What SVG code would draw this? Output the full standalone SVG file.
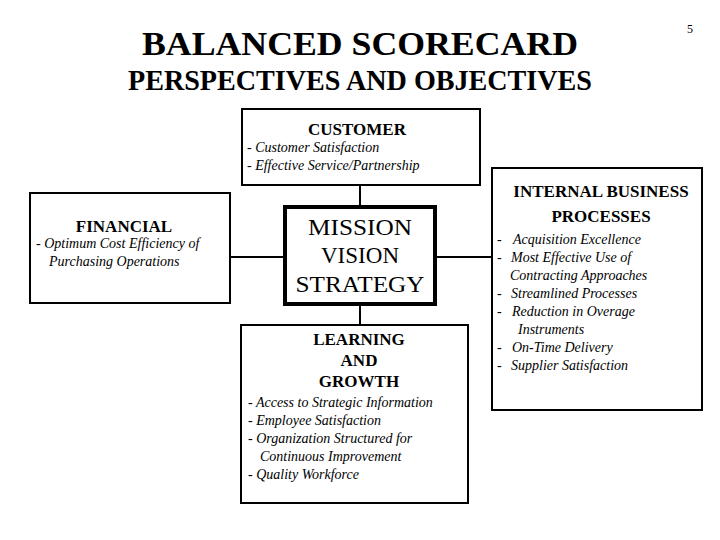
<svg xmlns="http://www.w3.org/2000/svg" width="720" height="540" viewBox="0 0 720 540" font-family="'Liberation Serif', 'Times New Roman', serif">
<style>
text{font-family:"Liberation Serif","Times New Roman",serif;fill:#000}
.box{fill:#fff;stroke:#000;stroke-width:2}
.hd{font-weight:bold;font-size:17px;text-anchor:middle}
.it{font-style:italic;font-size:14px}
.ttl{font-weight:bold;text-anchor:middle}
.ms{font-size:24px;text-anchor:middle;font-weight:normal}
.con line{stroke:#000;stroke-width:2}
</style>
<rect width="720" height="540" fill="#fff"/>
<g id="title">
<text class="ttl" x="360" y="55" font-size="34" textLength="436" lengthAdjust="spacingAndGlyphs">BALANCED SCORECARD</text>
<text class="ttl" x="360" y="90" font-size="29" textLength="464" lengthAdjust="spacingAndGlyphs">PERSPECTIVES AND OBJECTIVES</text>
<text x="687" y="33" font-size="12">5</text>
</g>
<g class="con" id="connectors">
<line x1="360" y1="185" x2="360" y2="206"/>
<line x1="230" y1="257" x2="284" y2="257"/>
<line x1="436" y1="257" x2="492" y2="257"/>
<line x1="360" y1="305" x2="360" y2="325"/>
</g>
<g id="customer">
<rect class="box" x="242" y="109" width="238" height="76"/>
<text class="hd" x="357" y="135">CUSTOMER</text>
<text class="it" x="247" y="152">- Customer Satisfaction</text>
<text class="it" x="247" y="170">- Effective Service/Partnership</text>
</g>
<g id="financial">
<rect class="box" x="30" y="193" width="200" height="110"/>
<text class="hd" x="124" y="232">FINANCIAL</text>
<text class="it" x="36" y="248">- Optimum Cost Efficiency of</text>
<text class="it" x="49" y="266">Purchasing Operations</text>
</g>
<g id="mission">
<rect x="285" y="207" width="150" height="97" fill="#fff" stroke="#000" stroke-width="4"/>
<text class="ms" x="360" y="235" textLength="104" lengthAdjust="spacingAndGlyphs">MISSION</text>
<text class="ms" x="360" y="263" textLength="78" lengthAdjust="spacingAndGlyphs">VISION</text>
<text class="ms" x="360" y="292" textLength="129" lengthAdjust="spacingAndGlyphs">STRATEGY</text>
</g>
<g id="internal">
<rect class="box" x="492" y="168" width="210" height="242"/>
<text class="hd" x="601" y="197">INTERNAL BUSINESS</text>
<text class="hd" x="601" y="222">PROCESSES</text>
<text class="it" y="244"><tspan x="497">-</tspan><tspan x="513">Acquisition Excellence</tspan></text>
<text class="it" y="262"><tspan x="497">-</tspan><tspan x="511">Most Effective Use of</tspan></text>
<text class="it" x="510" y="280">Contracting Approaches</text>
<text class="it" y="298"><tspan x="497">-</tspan><tspan x="511">Streamlined Processes</tspan></text>
<text class="it" y="316"><tspan x="497">-</tspan><tspan x="512">Reduction in Overage</tspan></text>
<text class="it" x="518" y="334">Instruments</text>
<text class="it" y="352"><tspan x="497">-</tspan><tspan x="512">On-Time Delivery</tspan></text>
<text class="it" y="370"><tspan x="497">-</tspan><tspan x="511">Supplier Satisfaction</tspan></text>
</g>
<g id="learning">
<rect class="box" x="241" y="325" width="227" height="178"/>
<text class="hd" x="359" y="345">LEARNING</text>
<text class="hd" x="359" y="366">AND</text>
<text class="hd" x="359" y="387">GROWTH</text>
<text class="it" x="248" y="407">- Access to Strategic Information</text>
<text class="it" x="248" y="425">- Employee Satisfaction</text>
<text class="it" x="248" y="443">- Organization Structured for</text>
<text class="it" x="260" y="461">Continuous Improvement</text>
<text class="it" x="248" y="479">- Quality Workforce</text>
</g>
</svg>
